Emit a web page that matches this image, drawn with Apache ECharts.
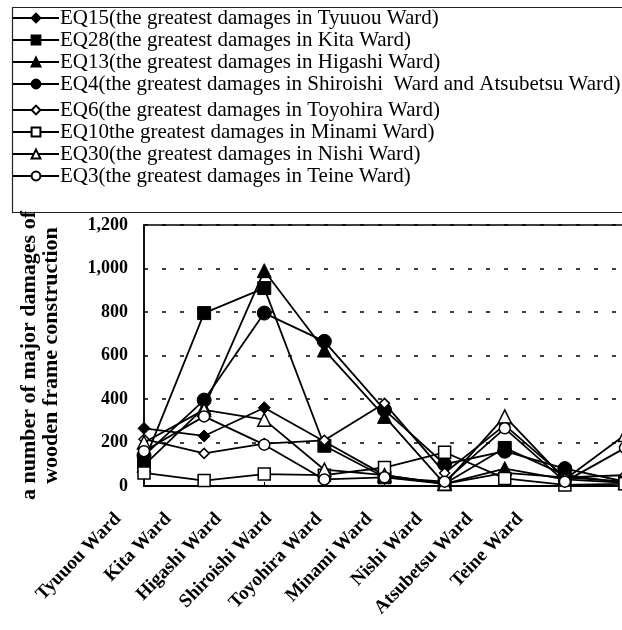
<!DOCTYPE html>
<html><head><meta charset="utf-8">
<script src="https://cdn.jsdelivr.net/npm/echarts@6/dist/echarts.min.js"></script>
<style>html,body{margin:0;padding:0;background:#fff}#c{width:622px;height:630px}</style>
</head><body><div id="c"></div>
<script>
const categories = ['Tyuuou Ward','Kita Ward','Higashi Ward','Shiroishi Ward','Toyohira Ward','Minami Ward','Nishi Ward','Atsubetsu Ward','Teine Ward'];
const yMin = 0, yMax = 1200, yStep = 200;
const names = [
  'EQ15(the greatest damages in Tyuuou Ward)',
  'EQ28(the greatest damages in Kita Ward)',
  'EQ13(the greatest damages in Higashi Ward)',
  'EQ4(the greatest damages in Shiroishi  Ward and Atsubetsu Ward)',
  'EQ6(the greatest damages in Toyohira Ward)',
  'EQ10the greatest damages in Minami Ward)',
  'EQ30(the greatest damages in Nishi Ward)',
  'EQ3(the greatest damages in Teine Ward)'
];
const eq15 = [265, 230, 360, 205, 50, 10, 60, 40, 20];
const eq28 = [110, 795, 910, 185, 40, 10, 175, 50, 15];
const eq13 = [95, 360, 990, 625, 320, 10, 80, 30, 15];
const eq4  = [140, 395, 795, 665, 350, 100, 160, 80, 20];
const eq6  = [215, 150, 195, 210, 380, 60, 280, 40, 50];
const eq10 = [60, 25, 55, 50, 85, 155, 35, 5, 10];
const eq30 = [200, 350, 305, 75, 50, 10, 320, 30, 235];
const eq3  = [160, 320, 190, 30, 40, 20, 265, 20, 175];

const seriesData = [eq15, eq28, eq13, eq4, eq6, eq10, eq30, eq3];
const symbols = ['diamond','rect','triangle','circle','diamond','rect','triangle','circle'];
const filled = [true,true,true,true,false,false,false,false];
const sizes = [12, 13, 14, 14, 10, 12, 13, 11];

const serif = "'Liberation Serif','Times New Roman',serif";

const series = seriesData.map((d, i) => ({
  name: names[i],
  type: 'line',
  xAxisIndex: 0, yAxisIndex: 0,
  data: d,
  symbol: symbols[i],
  symbolSize: sizes[i],
  showAllSymbol: true,
  lineStyle: { color: '#000', width: 1.8 },
  itemStyle: filled[i] ? { color: '#000', borderColor: '#000', borderWidth: 1 }
                       : { color: '#fff', borderColor: '#000', borderWidth: 1.5 },
  emphasis: { disabled: true },
  z: 3 + i
}));

const legendCommon = {
  orient: 'vertical', left: 12, padding: 0, itemGap: 0,
  itemWidth: 46, itemHeight: 11, selectedMode: false,
  textStyle: { fontFamily: serif, fontSize: 21, color: '#000', lineHeight: 22, padding: [0,0,0,-4] }
};

const chart = echarts.init(document.getElementById('c'), null, { renderer: 'canvas' });
chart.setOption({
  animation: false,
  backgroundColor: '#fff',
  graphic: [{
    type: 'rect', left: 10, top: 5, shape: { x: 0, y: 0, width: 700, height: 205 },
    style: { fill: 'none', stroke: '#222', lineWidth: 1.2 }, silent: true
  }],
  legend: [
    Object.assign({}, legendCommon, { top: 7, data: names.slice(0, 4) }),
    Object.assign({}, legendCommon, { top: 99, data: names.slice(4) })
  ],
  grid: [
    { left: 144, top: 225, right: -3, bottom: 144, show: true, borderColor: '#000', borderWidth: 1.5,
      backgroundColor: 'transparent', outerBoundsMode: 'none', containLabel: false },
    { left: 118, top: 225, right: 102, bottom: 144, outerBoundsMode: 'none', containLabel: false }
  ],
  xAxis: [
    { gridIndex: 0, type: 'category', data: categories, boundaryGap: false,
      axisLine: { lineStyle: { color: '#000', width: 2 } },
      axisTick: { show: true, inside: true, length: 4, lineStyle: { color: '#000' } },
      axisLabel: { show: false }, splitLine: { show: false } },
    { gridIndex: 1, type: 'category', data: categories, boundaryGap: false,
      axisLine: { show: false }, axisTick: { show: false }, splitLine: { show: false },
      axisLabel: { rotate: 46, margin: 30, fontFamily: serif, fontWeight: 'bold', fontSize: 19, color: '#000', interval: 0 } }
  ],
  yAxis: [
    { gridIndex: 0, type: 'value', min: yMin, max: yMax, interval: yStep,
      name: 'a number of major damages of\nwooden frame construction',
      nameLocation: 'middle', nameRotate: 90, nameGap: 82,
      nameTextStyle: { fontFamily: serif, fontWeight: 'bold', fontSize: 22, color: '#000', lineHeight: 22 },
      axisLine: { show: true, lineStyle: { color: '#000', width: 1.5 } },
      axisTick: { show: false },
      axisLabel: { margin: 16, fontFamily: serif, fontWeight: 'bold', fontSize: 18, color: '#000',
        formatter: v => v.toLocaleString('en-US') },
      splitLine: { show: true, lineStyle: { color: '#000', width: 1.5, type: [4, 14] } } },
    { gridIndex: 1, type: 'value', show: false, min: 0, max: 1 }
  ],
  series: series
});
</script></body></html>
